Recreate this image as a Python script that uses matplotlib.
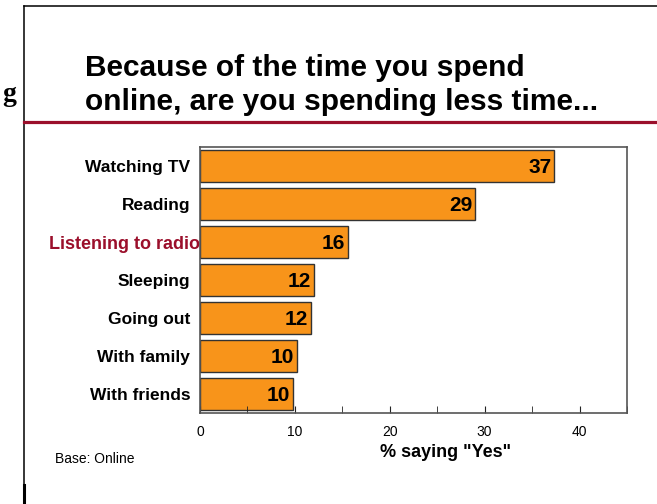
import matplotlib.pyplot as plt
import matplotlib.transforms as mtransforms
from matplotlib.lines import Line2D
from matplotlib.ticker import MultipleLocator

# data
activities = ['Watching TV', 'Reading', 'Listening to radio', 'Sleeping',
              'Going out', 'With family', 'With friends']
pct_yes = [37.3, 29.0, 15.6, 12.0, 11.7, 10.2, 9.8]
value_labels = ['37', '29', '16', '12', '12', '10', '10']

plt.rcParams['font.family'] = ['Liberation Sans', 'DejaVu Sans']

orange = '#F8941A'
dark_red = '#9B0F2B'

fig = plt.figure(figsize=(6.57, 5.04), dpi=100)

# slide frame lines
fig.add_artist(Line2D([0.0365, 0.0365], [0.0, 0.988], color='black', lw=1.1))
fig.add_artist(Line2D([0.0365, 1.0], [0.988, 0.988], color='black', lw=1.1))
fig.add_artist(Line2D([0.0365, 0.0365], [0.0, 0.038], color='black', lw=2.2))
fig.add_artist(Line2D([0.0365, 1.0], [0.758, 0.758], color=dark_red, lw=2.3))

fig.text(0.003, 0.80, 'g', family='Liberation Serif', fontweight='bold',
         fontsize=20, va='baseline', ha='left')

fig.text(0.130, 0.849, 'Because of the time you spend', fontsize=21.5,
         fontweight='bold', va='baseline', ha='left')
fig.text(0.130, 0.782, 'online, are you spending less time...', fontsize=21.5,
         fontweight='bold', va='baseline', ha='left')

ax = fig.add_axes([0.3044, 0.1806, 0.6499, 0.5277])
y = list(range(len(activities)))
ax.barh(y, pct_yes, height=0.82, color=orange, edgecolor='#333333', lw=1)

for yi, v, lab in zip(y, pct_yes, value_labels):
    ax.annotate(lab, (v, yi), xytext=(-2, -1), textcoords='offset points',
                ha='right', va='center', fontsize=15, fontweight='bold')

ax.set_xlim(0, 45)
ax.set_ylim(len(activities) - 0.5, -0.5)
ax.set_yticks(y)
ax.set_yticklabels(activities, fontsize=12.5, fontweight='bold')
ax.tick_params(axis='y', length=0, pad=7)

# radio label sticks out further to the right and is red
radio = ax.get_yticklabels()[2]
radio.set_color(dark_red)
radio.set_fontsize(13)
radio.set_transform(radio.get_transform() +
                    mtransforms.ScaledTranslation(10 / 100, 0, fig.dpi_scale_trans))

ax.xaxis.set_major_locator(MultipleLocator(10))
ax.xaxis.set_minor_locator(MultipleLocator(5))
ax.tick_params(axis='x', which='both', direction='in', length=5,
               labelsize=10, pad=9, color='#222222')
ax.set_xticks([0, 10, 20, 30, 40])
ax.set_xlabel('% saying "Yes"', fontsize=13, fontweight='bold', labelpad=2)
ax.xaxis.set_label_coords(0.576, -0.115)

for s in ax.spines.values():
    s.set_color('#555555')
    s.set_linewidth(1.2)

fig.text(0.084, 0.090, 'Base: Online', fontsize=10, ha='left', va='center')

fig.savefig('out.png', dpi=100)
